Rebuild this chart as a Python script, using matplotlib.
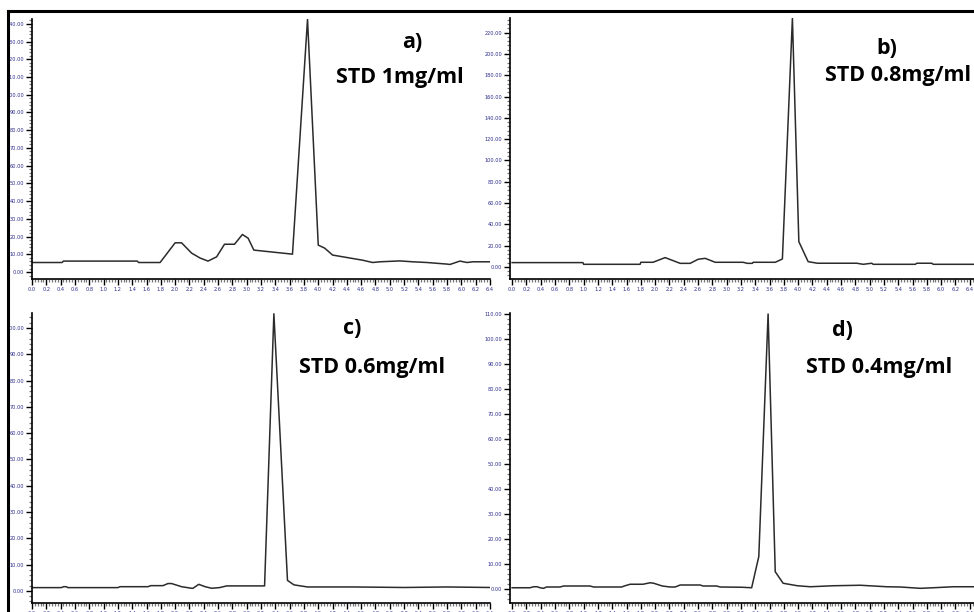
import numpy as np
import matplotlib
matplotlib.use('Agg')
import matplotlib.pyplot as plt
from matplotlib.ticker import MultipleLocator, FormatStrFormatter
from matplotlib.lines import Line2D

W, H = 974, 612

# chromatogram traces (time in min, signal)
t_a = [0.0, 0.42, 0.44, 1.47, 1.49, 1.79, 2.0, 2.09, 2.23, 2.35, 2.46, 2.58, 2.69, 2.83, 2.94,
       3.02, 3.1, 3.64, 3.85, 4.0, 4.09, 4.2, 4.62, 4.76, 4.86, 5.14, 5.32, 5.52, 5.8, 5.84,
       5.98, 6.08, 6.16, 6.4]
y_a = [5.4, 5.4, 6.2, 6.2, 5.4, 5.4, 16.5, 16.5, 10.7, 7.9, 6.2, 8.6, 15.7, 15.7, 21.2,
       19.1, 12.4, 10.1, 142.5, 15.2, 13.5, 9.6, 6.7, 5.4, 5.8, 6.3, 5.8, 5.4, 4.5, 4.3,
       6.2, 5.4, 5.8, 5.8]

t_b = [0.0, 0.99, 1.0, 1.79, 1.8, 1.97, 2.14, 2.35, 2.49, 2.6, 2.7, 2.84, 3.23, 3.29, 3.36,
       3.37, 3.68, 3.78, 3.92, 4.01, 4.14, 4.27, 4.82, 4.91, 5.03, 5.05, 5.64, 5.66, 5.87,
       5.89, 6.46]
y_b = [4.1, 4.1, 2.5, 2.5, 4.4, 4.4, 8.8, 3.4, 3.4, 7.2, 8.1, 4.4, 4.4, 3.4, 3.4,
       4.4, 4.4, 7.5, 233.5, 23.8, 5.0, 3.5, 3.5, 2.5, 3.5, 2.5, 2.5, 3.5, 3.5,
       2.5, 2.5]

t_c = [0.0, 0.41, 0.44, 0.48, 0.5, 1.2, 1.23, 1.62, 1.66, 1.83, 1.9, 1.95, 2.09, 2.23, 2.25,
       2.33, 2.42, 2.51, 2.62, 2.72, 3.04, 3.25, 3.38, 3.57, 3.66, 3.85, 4.5, 5.2, 5.8, 6.4]
y_c = [1.25, 1.25, 1.6, 1.6, 1.25, 1.25, 1.6, 1.6, 2.0, 2.0, 2.8, 2.8, 1.6, 1.0, 1.0,
       2.5, 1.6, 1.0, 1.25, 1.9, 1.9, 1.9, 105.4, 4.0, 2.3, 1.5, 1.5, 1.3, 1.5, 1.3]

t_d = [0.0, 0.25, 0.3, 0.35, 0.39, 0.44, 0.48, 0.67, 0.72, 1.09, 1.14, 1.53, 1.58, 1.65,
       1.83, 1.93, 1.98, 2.1, 2.21, 2.28, 2.35, 2.63, 2.67, 2.86, 2.91, 3.21, 3.35, 3.45,
       3.58, 3.68, 3.79, 3.99, 4.17, 4.49, 4.87, 5.24, 5.43, 5.71, 5.89, 6.17, 6.46]
y_d = [0.5, 0.5, 0.9, 0.9, 0.5, 0.27, 0.8, 0.8, 1.2, 1.2, 0.8, 0.8, 1.3, 1.9,
       1.9, 2.5, 2.3, 1.2, 0.8, 0.8, 1.6, 1.6, 1.2, 1.2, 0.8, 0.7, 0.5, 13.0,
       110.0, 6.9, 2.3, 1.3, 0.9, 1.3, 1.5, 0.9, 0.8, 0.27, 0.5, 0.9, 0.9]

panels = [
    # trace, box in pixels (left, top, right, bottom), xlim, ylim, y step, tag, caption
    (t_a, y_a, (32, 19, 490, 279), (0, 6.4), (-3.9, 142.7), 10, 'a)', 'STD 1mg/ml',
     (412, 43), (400, 77)),
    (t_b, y_b, (510, 18, 974, 279), (-0.03, 6.46), (-11.3, 233.8), 20, 'b)', 'STD 0.8mg/ml',
     (887, 48), (898, 75)),
    (t_c, y_c, (32, 313, 490, 603), (0, 6.4), (-4.6, 105.7), 10, 'c)', 'STD 0.6mg/ml',
     (352, 328), (372, 367)),
    (t_d, y_d, (510, 313, 974, 603), (-0.03, 6.46), (-5.6, 110.4), 10, 'd)', 'STD 0.4mg/ml',
     (842, 330), (879, 367)),
]

label_col = '#2a2a8c'

fig = plt.figure(figsize=(W / 100, H / 100), dpi=100)
fig.patch.set_facecolor('white')

for t, y, box, xl, yl, ystep, tag, cap, tag_pos, cap_pos in panels:
    l, top, r, b = box
    ax = fig.add_axes([l / W, 1 - b / H, (r - l) / W, (b - top) / H])
    ax.plot(t, y, color='#2b2b2b', lw=1.1)
    ax.set_xlim(*xl)
    ax.set_ylim(*yl)
    for s in ['top', 'right']:
        ax.spines[s].set_visible(False)
    for s in ['left', 'bottom']:
        ax.spines[s].set_linewidth(1.2)
    ax.xaxis.set_major_locator(MultipleLocator(0.2))
    ax.xaxis.set_minor_locator(MultipleLocator(0.04))
    ax.yaxis.set_major_locator(MultipleLocator(ystep))
    ax.yaxis.set_minor_locator(MultipleLocator(ystep / 5))
    ax.xaxis.set_major_formatter(FormatStrFormatter('%.1f'))
    ax.yaxis.set_major_formatter(FormatStrFormatter('%.2f'))
    ax.tick_params(which='major', length=4, width=1.0, color='black',
                   labelsize=3.6, labelcolor=label_col, pad=1.5)
    ax.tick_params(which='minor', length=2.5, width=0.9, color='#777777')
    ax.set_facecolor('white')

    fig.text(tag_pos[0] / W, 1 - tag_pos[1] / H, tag, ha='center', va='center',
             fontsize=15.5, fontweight='bold', family='Open Sans')
    fig.text(cap_pos[0] / W, 1 - cap_pos[1] / H, cap, ha='center', va='center',
             fontsize=15.5, fontweight='bold', family='Open Sans')

# frame lines along the top and left edge of the screenshot
fig.add_artist(Line2D([8 / W, 1], [1 - 11 / H, 1 - 11 / H], color='black', lw=2.2))
fig.add_artist(Line2D([8 / W, 8 / W], [0, 1 - 11 / H], color='black', lw=2.2))

fig.savefig('out.png', dpi=100)
